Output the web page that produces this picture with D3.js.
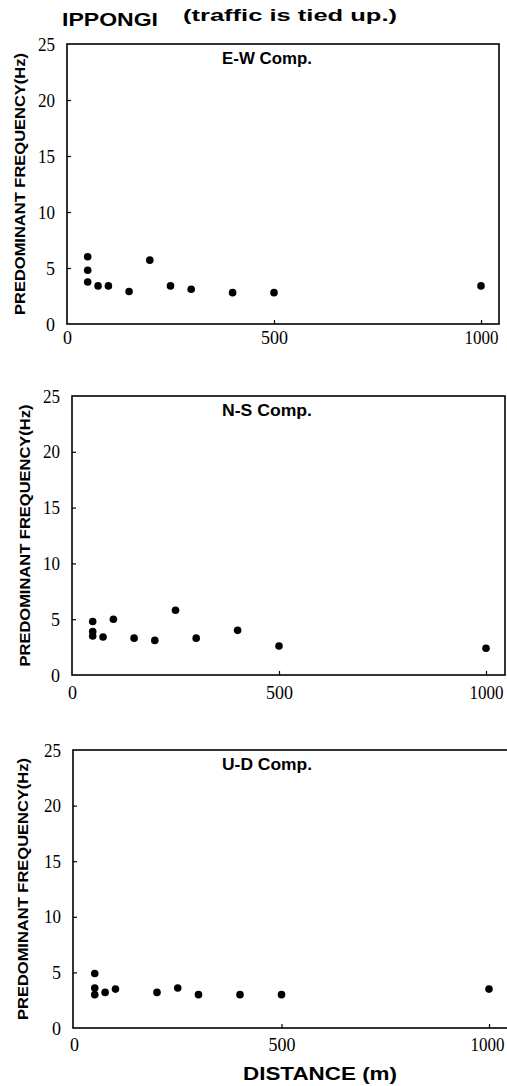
<!DOCTYPE html>
<html><head><meta charset="utf-8">
<script src="https://cdn.jsdelivr.net/npm/d3@7"></script>
<style>body{margin:0;background:#fff}svg{display:block}
.num{font-family:"Liberation Serif","DejaVu Serif",serif;font-size:19px}
</style>
</head><body>
<script>
const titleMain = "IPPONGI";
const titleSub = "(traffic is tied up.)";
const yLabel = "PREDOMINANT  FREQUENCY(Hz)";
const xLabel = "DISTANCE  (m)";
const panelNames = ["E-W Comp.", "N-S Comp.", "U-D Comp."];
const yTicks = [0, 5, 10, 15, 20, 25];
const xTicks = [0, 500, 1000];

const ewDist = [50, 50, 50, 75, 100, 150, 200, 250, 300, 400, 500, 1000];
const ewFreq = [6.0, 4.8, 3.75, 3.4, 3.4, 2.9, 5.7, 3.4, 3.1, 2.8, 2.8, 3.4];
const nsDist = [50, 50, 50, 75, 100, 150, 200, 250, 300, 400, 500, 1000];
const nsFreq = [4.8, 3.9, 3.5, 3.4, 5.0, 3.3, 3.1, 5.8, 3.3, 4.0, 2.6, 2.4];
const udDist = [50, 50, 50, 75, 100, 200, 250, 300, 400, 500, 1000];
const udFreq = [4.9, 3.6, 3.0, 3.2, 3.5, 3.2, 3.6, 3.0, 3.0, 3.0, 3.5];

const W = 507, H = 1086;
const svg = d3.select("body").append("svg").attr("width", W).attr("height", H);

const sans = "'Liberation Sans', Arial, sans-serif";

svg.append("text").attr("x", 62).attr("y", 26).style("font-family", sans)
  .style("font-weight", "bold").style("font-size", "19px")
  .attr("textLength", 96).attr("lengthAdjust", "spacingAndGlyphs").text(titleMain);
svg.append("text").attr("x", 183).attr("y", 21).style("font-family", sans)
  .style("font-weight", "bold").style("font-size", "17px")
  .attr("textLength", 214).attr("lengthAdjust", "spacingAndGlyphs").text(titleSub);

const panels = [
  {name: panelNames[0], dist: ewDist, freq: ewFreq, left: 67, right: 499, top: 44, bottom: 324, x0: 67, x1000: 481, ylab: 20, xpad: 7},
  {name: panelNames[1], dist: nsDist, freq: nsFreq, left: 72, right: 505, top: 396, bottom: 675, x0: 72, x1000: 486, ylab: 25, xpad: 11},
  {name: panelNames[2], dist: udDist, freq: udFreq, left: 73, right: 508, top: 750, bottom: 1028, x0: 74, x1000: 489, ylab: 23, xpad: 10}
];

panels.forEach((p, i) => {
  const x = d3.scaleLinear().domain([0, 1000]).range([p.x0, p.x1000]);
  const y = d3.scaleLinear().domain([0, 25]).range([p.bottom, p.top]);
  const g = svg.append("g");

  g.append("rect").attr("x", p.left).attr("y", p.top)
    .attr("width", p.right - p.left).attr("height", p.bottom - p.top)
    .attr("fill", "none").attr("stroke", "#000").attr("stroke-width", 1.6);

  const ya = g.append("g").attr("transform", `translate(${p.left},0)`)
    .call(d3.axisLeft(y).tickValues(yTicks).tickSize(-4).tickPadding(12).tickFormat(d3.format("d")));
  ya.attr("font-family", null).attr("font-size", null);
  ya.select(".domain").remove();
  ya.selectAll("line").attr("stroke", "#000").attr("stroke-width", 1.2)
    .filter(d => d === 0 || d === 25).remove();
  ya.selectAll("text").attr("class", "num").attr("fill", "#000")
    .attr("textLength", d => d < 10 ? 9 : 17).attr("lengthAdjust", "spacingAndGlyphs");

  const xa = g.append("g").attr("transform", `translate(0,${p.bottom})`)
    .call(d3.axisBottom(x).tickValues(xTicks).tickSize(-4).tickPadding(p.xpad).tickFormat(d3.format("d")));
  xa.attr("font-family", null).attr("font-size", null);
  xa.select(".domain").remove();
  xa.selectAll("line").attr("stroke", "#000").attr("stroke-width", 1.2)
    .filter(d => d === 0).remove();
  xa.selectAll("text").attr("class", "num").attr("fill", "#000")
    .attr("textLength", d => d === 0 ? 9 : d === 500 ? 27 : 34).attr("lengthAdjust", "spacingAndGlyphs")
    .attr("dx", d => (d === 1000 && i === 2) ? -2 : 0);

  const cy = (p.top + p.bottom) / 2;
  g.append("text").attr("transform", `translate(${p.ylab + 5},${cy}) rotate(-90)`)
    .attr("text-anchor", "middle").style("font-family", sans).style("font-weight", "bold")
    .style("font-size", "15px").attr("textLength", 262).attr("lengthAdjust", "spacingAndGlyphs")
    .text(yLabel);

  g.append("text").attr("x", 267).attr("y", p.top + 20).attr("text-anchor", "middle")
    .style("font-family", sans).style("font-weight", "bold").style("font-size", "16px")
    .attr("textLength", 90).attr("lengthAdjust", "spacingAndGlyphs")
    .text(p.name);

  g.selectAll("circle").data(p.dist.map((d, k) => [d, p.freq[k]])).enter()
    .append("circle").attr("cx", d => x(d[0])).attr("cy", d => y(d[1]))
    .attr("r", 3.8).attr("fill", "#000");
});

svg.append("text").attr("x", 243).attr("y", 1080).style("font-family", sans)
  .style("font-weight", "bold").style("font-size", "19px")
  .attr("textLength", 154).attr("lengthAdjust", "spacingAndGlyphs").text(xLabel);
</script>
</body></html>
